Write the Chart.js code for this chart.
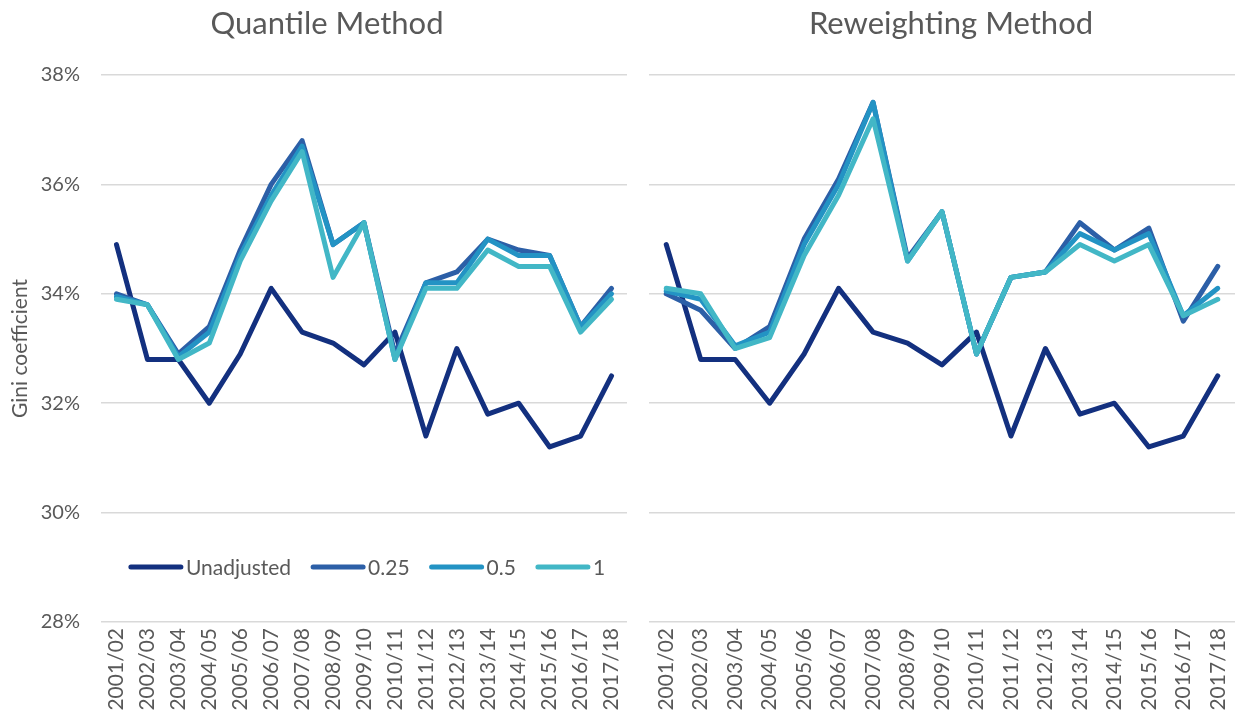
<!DOCTYPE html>
<html>
<head>
<meta charset="utf-8">
<script src="https://cdn.jsdelivr.net/npm/chart.js@4.4.0/dist/chart.umd.min.js"></script>
<style>
  html, body { margin: 0; padding: 0; background: #fff; }
  #wrap { position: relative; width: 1236px; height: 723px; }
  #cQuant { position: absolute; left: 0; top: 0; }
  #cRew { position: absolute; left: 640px; top: 0; }
</style>
</head>
<body>
<div id="wrap">
  <canvas id="cQuant" width="640" height="723"></canvas>
  <canvas id="cRew" width="596" height="723"></canvas>
</div>
<script>
// === Dados ===
var anos = ["2001/02","2002/03","2003/04","2004/05","2005/06","2006/07","2007/08","2008/09","2009/10",
            "2010/11","2011/12","2012/13","2013/14","2014/15","2015/16","2016/17","2017/18"];

var semAjuste = [34.9,32.8,32.8,32.0,32.9,34.1,33.3,33.1,32.7,33.3,31.4,33.0,31.8,32.0,31.2,31.4,32.5];

// Quantile method
var quant025 = [34.0,33.8,32.9,33.4,34.8,36.0,36.8,34.9,35.3,32.9,34.2,34.4,35.0,34.8,34.7,33.4,34.1];
var quant05  = [33.95,33.8,32.85,33.3,34.7,35.8,36.7,34.9,35.3,32.8,34.2,34.2,35.0,34.7,34.7,33.4,34.0];
var quant1   = [33.9,33.8,32.8,33.1,34.6,35.7,36.6,34.3,35.3,32.8,34.1,34.1,34.8,34.5,34.5,33.3,33.9];

// Reweighting method
var rew025 = [34.0,33.7,33.0,33.4,35.0,36.1,37.5,34.65,35.5,32.9,34.3,34.4,35.3,34.8,35.2,33.5,34.5];
var rew05  = [34.05,33.9,33.05,33.3,34.9,36.0,37.5,34.6,35.5,32.9,34.3,34.4,35.1,34.8,35.1,33.6,34.1];
var rew1   = [34.1,34.0,33.0,33.2,34.7,35.8,37.2,34.6,35.5,32.9,34.3,34.4,34.9,34.6,34.9,33.6,33.9];

var yTicks = [28,30,32,34,36,38];

var cores = ["#13307f","#2c5fa7","#2393c4","#42b7c6"];
var nomes = ["Unadjusted","0.25","0.5","1"];
var FONTE = "Lato";
var CINZA = "#595959";

// titulo do painel
var tituloPainel = {
  id: 'tituloPainel',
  afterDraw: function(chart, args, opts) {
    var ctx = chart.ctx;
    ctx.save();
    ctx.font = '31px ' + FONTE;
    ctx.fillStyle = CINZA;
    ctx.textAlign = 'center';
    ctx.textBaseline = 'middle';
    ctx.fillText(opts.text, opts.x, opts.y);
    ctx.restore();
  }
};

// legenda dentro da area do grafico (estilo Excel)
var legendaInterna = {
  id: 'legendaInterna',
  afterDraw: function(chart, args, opts) {
    if (!opts.show) return;
    var ctx = chart.ctx;
    ctx.save();
    ctx.font = '21px ' + FONTE;
    var ds = chart.data.datasets;
    var linha = 50, gap = 5, entre = 22;
    var total = 0;
    for (var i = 0; i < ds.length; i++) {
      total += linha + gap + ctx.measureText(ds[i].label).width;
      if (i < ds.length - 1) total += entre;
    }
    var ca = chart.chartArea;
    var x = (ca.left + ca.right) / 2 - total / 2 + 4;
    var y = opts.y;
    ctx.textBaseline = 'middle';
    ctx.textAlign = 'left';
    for (var j = 0; j < ds.length; j++) {
      ctx.strokeStyle = ds[j].borderColor;
      ctx.lineWidth = 5;
      ctx.lineCap = 'round';
      ctx.beginPath();
      ctx.moveTo(x, y);
      ctx.lineTo(x + linha, y);
      ctx.stroke();
      x += linha + gap;
      ctx.fillStyle = CINZA;
      ctx.fillText(ds[j].label, x, y + 1);
      x += ctx.measureText(ds[j].label).width + entre;
    }
    ctx.restore();
  }
};

function montarDatasets(series) {
  return series.map(function(s, i) {
    return {
      label: nomes[i],
      data: s,
      borderColor: cores[i],
      backgroundColor: cores[i],
      borderWidth: 5,
      pointRadius: 0,
      tension: 0,
      fill: false,
      borderJoinStyle: 'round',
      borderCapStyle: 'round',
      order: series.length - i
    };
  });
}

function criarGrafico(id, series, cfg) {
  return new Chart(document.getElementById(id), {
    type: 'line',
    data: { labels: anos, datasets: montarDatasets(series) },
    plugins: [tituloPainel, legendaInterna],
    options: {
      responsive: false,
      animation: false,
      layout: { padding: { top: cfg.padTop, right: cfg.padRight, left: 0, bottom: 0 } },
      plugins: {
        legend: { display: false },
        tooltip: { enabled: false },
        tituloPainel: { text: cfg.titulo, x: cfg.tituloX, y: 24 },
        legendaInterna: { show: cfg.legenda, y: 567 }
      },
      scales: {
        x: {
          offset: true,
          grid: { display: false, drawTicks: false },
          border: { display: false },
          ticks: {
            color: CINZA,
            font: { family: FONTE, size: 21 },
            minRotation: 90, maxRotation: 90,
            padding: 6,
            autoSkip: false
          },
          afterFit: function(scale) {
            scale.height = 101;
            scale.paddingLeft = 0;
            scale.paddingRight = 0;
          }
        },
        y: {
          min: 28, max: 38,
          afterBuildTicks: function(scale) {
            scale.ticks = yTicks.map(function(v) { return { value: v }; });
          },
          grid: { color: '#d9d9d9', lineWidth: 1.5, drawTicks: false },
          border: { display: false },
          ticks: {
            display: cfg.yLabels,
            color: CINZA,
            font: { family: FONTE, size: 20 },
            padding: 21,
            callback: function(v) { return v + '%'; }
          },
          title: {
            display: cfg.yLabels,
            text: 'Gini coefficient',
            color: CINZA,
            font: { family: FONTE, size: 21 },
            padding: { top: 8, bottom: 0 }
          },
          afterFit: function(scale) {
            scale.width = cfg.yWidth;
            scale.paddingTop = 0;
            scale.paddingBottom = 0;
          }
        }
      }
    }
  });
}

criarGrafico('cQuant', [semAjuste, quant025, quant05, quant1], {
  titulo: 'Quantile Method', tituloX: 327, legenda: true,
  yLabels: true, yWidth: 101, padTop: 75, padRight: 13
});

criarGrafico('cRew', [semAjuste, rew025, rew05, rew1], {
  titulo: 'Reweighting Method', tituloX: 311, legenda: false,
  yLabels: false, yWidth: 9, padTop: 75, padRight: 1
});
</script>
</body>
</html>
